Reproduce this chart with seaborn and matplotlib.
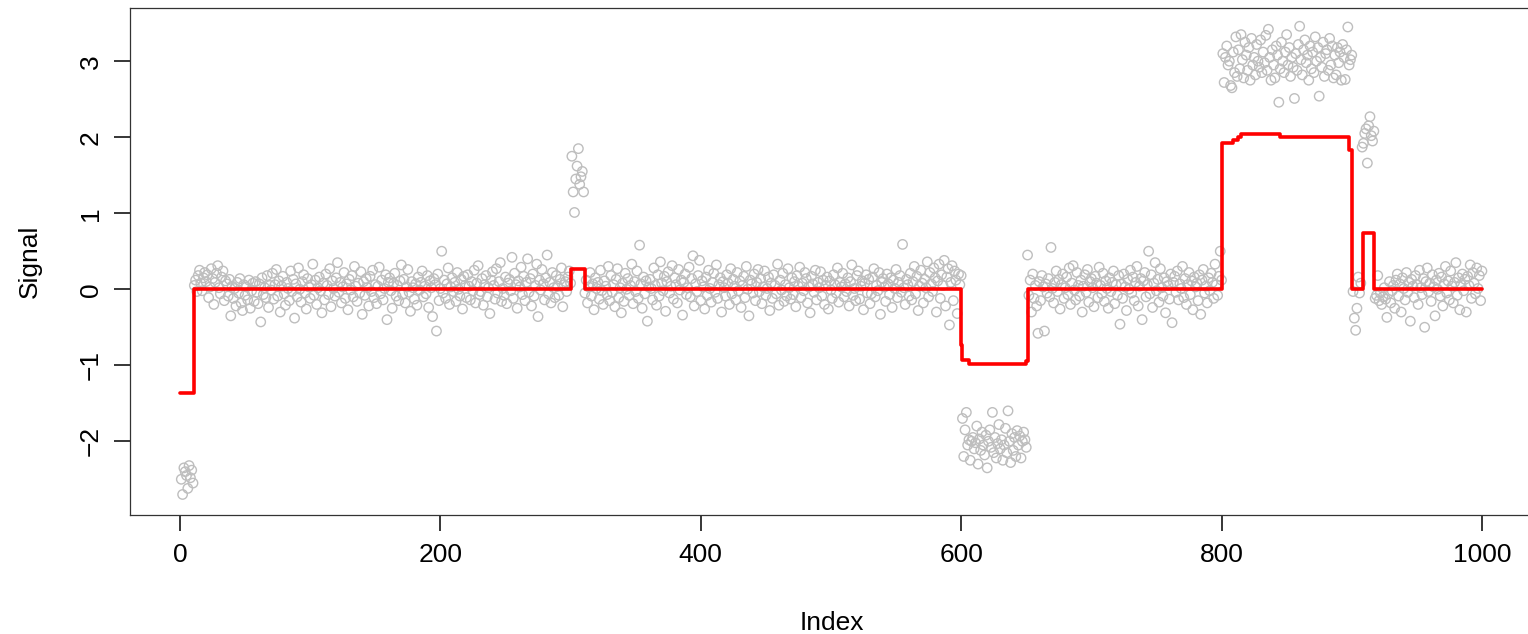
import numpy as np
import pandas as pd
import matplotlib
matplotlib.use("Agg")
import matplotlib.pyplot as plt
import seaborn as sns

# ==========================================
# DATA
# ==========================================
seg_low_start = [-2.50, -2.70, -2.35, -2.40, -2.45, -2.62, -2.32, -2.48, -2.38, -2.55]

seg_flat_a = [
    0.05, 0.12, -0.03, 0.18, 0.25, 0.08, -0.02, 0.15, 0.22, 0.10,
    0.19, -0.11, 0.03, 0.27, 0.14, -0.20, 0.09, 0.21, 0.31, 0.02,
    -0.06, 0.16, 0.24, -0.15, 0.11, 0.07, -0.09, 0.13, -0.35, 0.04,
    -0.12, 0.01, -0.22, 0.09, -0.05, 0.14, -0.18, -0.28, 0.06, -0.08,
    0.03, -0.14, 0.12, -0.25, -0.02, 0.08, -0.16, 0.10, -0.04, -0.19,
    0.07, -0.43, 0.15, -0.07, 0.02, -0.11, 0.18, -0.24, 0.05, -0.01,
    0.21, -0.13, 0.06, 0.26, -0.09, 0.11, -0.30, 0.04, 0.17, -0.06,
    -0.21, 0.09, 0.01, -0.15, 0.24, -0.03, 0.13, -0.38, 0.07, -0.10,
    0.28, 0.00, -0.17, 0.10, 0.19, -0.05, -0.26, 0.14, 0.03, -0.12,
    0.06, 0.33, -0.08, 0.12, -0.20, 0.02, 0.16, -0.02, -0.31, 0.08,
    -0.14, 0.20, 0.05, -0.07, 0.27, -0.23, 0.11, 0.01, -0.09, 0.15,
    0.35, -0.04, 0.09, -0.18, 0.03, 0.22, -0.12, 0.07, -0.27, 0.13,
    -0.01, 0.18, -0.10, 0.30, 0.04, -0.16, 0.08, -0.05, 0.23, -0.33,
    0.10, -0.08, 0.14, 0.02, -0.22, 0.17, -0.03, 0.25, -0.11, 0.06,
    -0.19, 0.04, 0.29, -0.06, 0.12, -0.14, 0.01, 0.19, -0.40, 0.09,
    0.15, -0.02, -0.25, 0.08, 0.21, -0.09, 0.05, -0.15, 0.11, 0.32,
    -0.07, 0.13, -0.18, 0.03, 0.26, -0.04, -0.29, 0.10, 0.02, -0.13,
    0.07, -0.21, 0.16, -0.01, 0.09, 0.24, -0.10, 0.04, -0.06, 0.18,
    -0.24, 0.11, 0.02, -0.36, 0.14, 0.06, -0.55, 0.20, -0.15, 0.01,
    0.50, -0.05, 0.12, -0.12, 0.07, 0.28, -0.20, 0.03, 0.15, -0.03,
    0.09, -0.16, 0.22, 0.00, -0.09, 0.13, -0.26, 0.17, 0.05, -0.11,
    0.19, 0.04, -0.14, 0.10, -0.02, 0.25, -0.18, 0.08, 0.31, -0.07,
    -0.03, 0.14, -0.21, 0.06, 0.18, -0.10, 0.02, -0.32, 0.12, 0.23,
    0.05, -0.13, 0.27, -0.05, 0.10, 0.35, -0.16, 0.01, -0.08, 0.16,
    -0.19, 0.08, 0.13, -0.02, 0.42, -0.12, 0.21, 0.06, -0.25, 0.11,
    0.03, 0.29, -0.07, 0.17, -0.15, 0.09, 0.40, -0.04, 0.14, -0.22,
    0.20, -0.09, 0.05, 0.33, -0.36, 0.12, -0.01, 0.26, 0.07, -0.14,
    0.15, 0.45, -0.06, 0.09, -0.18, 0.22, 0.02, -0.11, 0.18, 0.04,
    -0.08, 0.13, 0.28, -0.23, 0.06, 0.10, -0.03, 0.16, 0.24, 0.08,
]

seg_bump_300 = [1.75, 1.28, 1.01, 1.45, 1.62, 1.85, 1.38, 1.48, 1.55, 1.28]

seg_flat_b = [
    -0.05, 0.12, -0.18, 0.03, 0.22, -0.09, 0.07, -0.27, 0.15, 0.01,
    0.09, -0.13, 0.25, -0.02, -0.20, 0.11, 0.04, -0.07, 0.30, -0.15,
    0.18, -0.04, 0.06, -0.23, 0.13, 0.27, -0.11, 0.02, -0.31, 0.08,
    -0.16, 0.21, 0.00, 0.14, -0.08, 0.05, 0.33, -0.19, 0.10, -0.03,
    0.24, -0.12, 0.58, 0.07, -0.25, 0.16, -0.06, 0.11, -0.42, 0.03,
    0.13, 0.01, -0.14, 0.28, 0.05, -0.21, 0.19, -0.09, 0.36, 0.08,
    -0.02, 0.17, -0.29, 0.10, 0.23, -0.05, 0.04, 0.31, -0.13, 0.15,
    0.06, -0.18, 0.26, -0.01, 0.12, -0.34, 0.09, 0.20, -0.07, 0.02,
    0.29, -0.10, 0.14, 0.44, -0.22, 0.07, -0.03, 0.18, 0.38, -0.15,
    0.11, 0.03, -0.26, 0.16, -0.08, 0.25, 0.01, -0.17, 0.09, 0.21,
    -0.04, 0.32, -0.12, 0.06, 0.15, -0.30, 0.10, 0.02, -0.09, 0.19,
    0.08, -0.20, 0.27, -0.06, 0.13, 0.04, -0.14, 0.22, -0.02, 0.11,
    -0.24, 0.05, 0.17, -0.11, 0.30, 0.00, -0.35, 0.12, 0.07, -0.05,
    0.20, -0.15, 0.09, 0.26, -0.03, 0.14, -0.19, 0.03, 0.24, -0.08,
    0.01, 0.16, -0.28, 0.08, -0.12, 0.19, 0.05, -0.06, 0.33, -0.21,
    0.12, -0.01, 0.21, -0.16, 0.06, -0.09, 0.27, 0.02, -0.13, 0.15,
    -0.07, 0.10, -0.23, 0.18, 0.04, 0.29, -0.11, 0.08, -0.02, 0.22,
    0.14, -0.18, 0.03, -0.31, 0.17, 0.07, -0.04, 0.25, -0.14, 0.09,
    0.02, 0.23, -0.09, 0.12, -0.20, 0.05, 0.16, -0.26, 0.11, -0.01,
    -0.12, 0.19, 0.06, -0.05, 0.28, -0.17, 0.09, 0.03, 0.21, -0.10,
    0.07, -0.03, 0.15, -0.22, 0.10, 0.32, -0.08, 0.01, -0.15, 0.18,
    0.24, -0.13, 0.04, 0.11, -0.27, 0.08, 0.19, -0.05, 0.13, -0.19,
    -0.06, 0.16, 0.27, -0.10, 0.05, -0.02, 0.22, -0.33, 0.09, 0.14,
    0.03, -0.16, 0.20, 0.07, -0.07, 0.15, -0.24, 0.12, 0.01, 0.26,
    -0.11, 0.09, 0.18, -0.04, 0.59, 0.02, -0.20, 0.13, 0.06, -0.09,
    0.21, -0.14, 0.10, 0.30, -0.06, 0.17, -0.28, 0.04, 0.25, 0.08,
    -0.18, 0.13, 0.02, 0.36, -0.10, 0.22, 0.07, -0.03, 0.28, 0.15,
    -0.30, 0.11, 0.33, -0.12, 0.19, 0.05, 0.38, -0.22, 0.16, 0.27,
    -0.47, 0.09, 0.31, -0.15, 0.24, 0.12, -0.32, 0.20, 0.06, 0.18,
]

seg_dip_600 = [
    -1.70, -2.20, -1.85, -1.62, -2.05, -1.98, -2.25, -2.00, -1.95, -2.10,
    -2.02, -1.80, -2.30, -1.97, -2.12, -1.88, -2.05, -2.18, -1.92, -2.35,
    -2.00, -1.85, -2.08, -1.62, -2.15, -1.95, -2.22, -2.03, -1.78, -2.10,
    -1.98, -2.25, -2.05, -1.83, -2.15, -1.60, -2.00, -2.28, -1.90, -2.12,
    -1.95, -2.20, -1.86, -2.05, -1.93, -2.22, -2.00, -1.88, -1.98, -2.08,
]

seg_flat_c = [
    0.45, -0.08, 0.12, -0.30, 0.20, -0.12, 0.05, -0.22, -0.58, 0.10,
    -0.15, 0.18, 0.03, -0.55, 0.07, -0.05, 0.14, -0.10, 0.55, 0.01,
    -0.18, 0.09, 0.24, -0.03, 0.13, -0.26, 0.06, 0.20, -0.12, 0.02,
    0.16, -0.07, 0.28, -0.20, 0.08, 0.31, -0.01, -0.14, 0.22, 0.05,
    -0.09, 0.12, -0.30, 0.04, 0.19, -0.04, 0.26, -0.17, 0.10, 0.14,
    0.02, -0.23, 0.17, 0.08, -0.11, 0.29, 0.05, -0.06, 0.21, -0.16,
    0.11, 0.01, -0.25, 0.15, -0.03, 0.09, 0.24, -0.19, 0.06, -0.08,
    0.18, -0.46, 0.07, -0.12, 0.20, 0.03, -0.28, 0.13, 0.00, 0.25,
    -0.05, 0.16, -0.15, 0.09, 0.30, -0.22, 0.04, 0.14, -0.40, 0.11,
    0.22, -0.10, 0.06, 0.50, -0.06, 0.19, -0.24, 0.08, 0.35, -0.02,
    0.13, -0.17, 0.27, 0.02, -0.09, 0.15, -0.31, 0.10, 0.05, -0.13,
    0.20, -0.44, 0.09, 0.17, -0.04, 0.24, -0.14, 0.07, 0.01, 0.30,
    -0.11, 0.14, -0.20, 0.06, 0.22, -0.07, 0.11, -0.27, 0.16, 0.03,
    0.08, -0.15, 0.19, -0.33, 0.12, 0.26, -0.05, 0.04, -0.18, 0.15,
    -0.02, 0.21, 0.09, -0.12, 0.33, 0.06, -0.08, 0.17, 0.50, 0.12,
]

seg_high_800 = [
    3.10, 2.72, 3.05, 3.20, 2.95, 3.00, 2.68, 2.65, 3.12, 2.85,
    3.32, 2.80, 3.15, 2.90, 3.35, 3.02, 2.78, 3.25, 3.08, 2.88,
    3.18, 2.75, 3.30, 2.95, 3.05, 2.82, 3.22, 3.00, 2.92, 3.28,
    2.85, 3.12, 2.98, 3.34, 2.88, 3.42, 3.05, 2.75, 3.15, 2.95,
    2.78, 3.20, 3.08, 2.46, 2.90, 3.25, 3.00, 2.85, 3.12, 3.35,
    2.95, 3.18, 2.80, 3.05, 2.92, 2.51, 3.10, 2.88, 3.22, 3.46,
    3.02, 2.82, 3.15, 3.28, 2.98, 3.08, 2.75, 3.20, 2.90, 3.12,
    2.85, 3.32, 3.00, 3.18, 2.54, 3.05, 2.92, 3.25, 2.80, 3.10,
    3.15, 2.88, 3.30, 2.95, 3.20, 2.78, 3.08, 2.82, 3.18, 2.98,
    3.12, 2.75, 3.22, 3.05, 2.76, 3.15, 3.45, 2.95, 3.02, 3.08,
]

seg_gap_900 = [-0.03, -0.38, -0.54, -0.25, 0.16, -0.05, 0.08]

seg_bump_910 = [1.87, 1.92, 2.05, 2.11, 1.66, 2.15, 2.27, 2.02, 1.95, 2.08]

seg_flat_d = [
    -0.12, -0.08, 0.18, -0.15, -0.05, -0.20, -0.10, 0.02, -0.13, -0.37,
    -0.06, 0.10, -0.18, -0.02, 0.05, -0.25, 0.12, 0.20, -0.09, 0.07,
    -0.30, 0.15, 0.01, -0.14, 0.22, -0.04, 0.09, -0.42, 0.13, 0.04,
    -0.11, 0.18, 0.06, -0.20, 0.25, 0.02, -0.07, 0.14, -0.50, 0.10,
    0.28, -0.03, 0.08, -0.16, 0.19, 0.03, -0.35, 0.12, 0.00, 0.21,
    -0.09, 0.16, -0.22, 0.07, 0.30, -0.05, 0.11, -0.14, 0.24, 0.04,
    -0.18, 0.09, 0.35, -0.08, 0.15, -0.27, 0.06, 0.20, -0.02, 0.13,
    -0.30, 0.17, 0.05, 0.32, -0.12, 0.22, 0.08, -0.06, 0.28, 0.01,
    0.18, -0.15, 0.24,
]

# fitted step function: left edges of each level, plus the final right edge
fit_edges = [0, 11, 300, 311, 600, 601, 606, 650, 651, 800, 809, 813, 815,
             845, 898, 900, 909, 917, 1000]
fit_levels = [-1.37, 0.0, 0.27, 0.0, -0.74, -0.93, -0.99, -0.95, 0.0, 1.93,
              1.96, 2.00, 2.04, 2.00, 1.83, 0.0, 0.74, 0.0]

x_ticks = [0, 200, 400, 600, 800, 1000]
y_ticks = [-2, -1, 0, 1, 2, 3]

# ==========================================
# BUILD FRAMES
# ==========================================
signal = (seg_low_start + seg_flat_a + seg_bump_300 + seg_flat_b + seg_dip_600
          + seg_flat_c + seg_high_800 + seg_gap_900 + seg_bump_910 + seg_flat_d)
points = pd.DataFrame({'Index': np.arange(1, len(signal) + 1), 'Signal': signal})
fit = pd.DataFrame({'Index': fit_edges, 'Signal': fit_levels + [fit_levels[-1]]})

# ==========================================
# PLOT
# ==========================================
sns.set_style("ticks")
plt.rcParams['font.family'] = ['Liberation Sans', 'DejaVu Sans']
plt.rcParams.update({
    'xtick.bottom': True, 'ytick.left': True,
    'xtick.direction': 'out', 'ytick.direction': 'out',
    'xtick.major.size': 11.5, 'ytick.major.size': 11.5,
    'xtick.major.width': 1.1, 'ytick.major.width': 1.1,
    'xtick.major.pad': 9, 'ytick.major.pad': 8,
    'xtick.color': 'black', 'ytick.color': 'black',
    'xtick.labelcolor': 'black', 'ytick.labelcolor': 'black',
    'xtick.labelsize': 19, 'ytick.labelsize': 19,
    'axes.edgecolor': '#333333', 'axes.linewidth': 0.9,
    'axes.labelcolor': 'black',
})

fig = plt.figure(figsize=(15.28, 6.34), dpi=100)
ax = fig.add_axes([130 / 1528, 119 / 634, 1404 / 1528, 507 / 634])

sns.scatterplot(data=points, x='Index', y='Signal', ax=ax, marker='o', s=46,
                facecolors='none', edgecolor='#bebebe', linewidth=1.0, zorder=2)
sns.lineplot(data=fit, x='Index', y='Signal', ax=ax, estimator=None,
             drawstyle='steps-post', color='red', linewidth=2.6, zorder=3)

ax.set_xlim(-38.4, 1040)
ax.set_ylim(-2.97, 3.70)
ax.set_xticks(x_ticks)
ax.set_yticks(y_ticks)
ax.set_yticklabels([str(v).replace('-', '\u2212') for v in y_ticks],
                   rotation=90, va='center')
for spine in ax.spines.values():
    spine.set_visible(True)

ax.set_xlabel('Index', fontsize=19, labelpad=31)
ax.set_ylabel('Signal', fontsize=19, labelpad=27)

plt.savefig('out.png', dpi=100)
plt.close()
